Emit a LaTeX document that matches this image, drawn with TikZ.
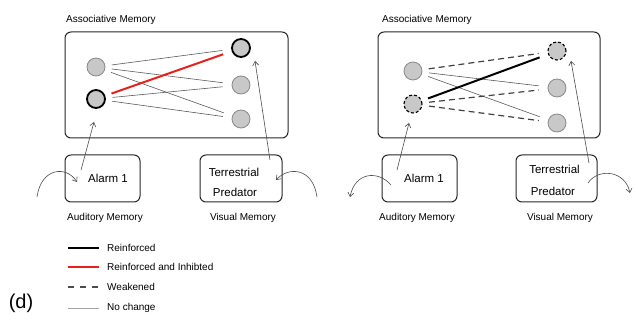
\documentclass[tikz,border=0pt]{standalone}
\usepackage{fontspec}
\setmainfont{Liberation Sans}
\usetikzlibrary{arrows.meta}
\definecolor{cellfill}{HTML}{C8C8C8}
\definecolor{cellrim}{HTML}{8A8A8A}
\definecolor{linkgrey}{HTML}{5A5A5A}
\definecolor{inhib}{HTML}{E8201C}
\tikzset{
  cell/.style={circle, fill=cellfill, draw=cellrim, line width=0.8pt, minimum size=18pt, inner sep=0pt},
  strongcell/.style={cell, draw=black, line width=1.8pt},
  weakcell/.style={cell, draw=black, line width=1.1pt, dash pattern=on 3pt off 2pt},
  memframe/.style={draw=black!85, line width=1pt, rounded corners=6pt},
  membox/.style={draw=black!85, line width=1pt, rounded corners=6pt, minimum width=75pt, minimum height=47pt, inner sep=0pt},
  link/.style={draw=linkgrey, line width=0.6pt, shorten <=6.5pt, shorten >=9pt},
  linkweak/.style={draw=black!75, line width=1.2pt, dash pattern=on 6pt off 4pt, shorten <=6.5pt, shorten >=9pt},
  linkstrong/.style={draw=black, line width=2pt, shorten <=6.5pt, shorten >=9pt},
  linkred/.style={draw=inhib, line width=2pt, shorten <=6.5pt, shorten >=9pt},
  feed/.style={draw=black!70, line width=0.6pt, -{Straight Barb[length=4pt,width=6pt]}},
  small/.style={font=\fontsize{10}{12}\selectfont, inner sep=0pt},
  boxtext/.style={font=\fontsize{11.5}{13}\selectfont, inner sep=0pt},
}
\begin{document}
\begin{tikzpicture}[x=1pt, y=-1pt]
\useasboundingbox (0,0) rectangle (635,326);

% ---------- left panel ----------
\node[small, anchor=west] (tA) at (66,20) {Associative Memory};
\draw[memframe] (65,32) rectangle (288,138);
\node[cell]       (aL1) at (96,67)  {};
\node[strongcell] (aL2) at (96,99)  {};
\node[strongcell] (aR1) at (241,48) {};
\node[cell]       (aR2) at (241,85) {};
\node[cell]       (aR3) at (241,119){};
\draw[link] (aL1) -- (aR1);
\draw[link] (aL1) -- (aR2);
\draw[link] (aL1) -- (aR3);
\draw[link] (aL2) -- (aR2);
\draw[link] (aL2) -- (aR3);
\draw[linkred] (aL2) -- (aR1);

\node[membox] (aA) at (102.5,178.5) {};
\node[boxtext] (aAt) at (108,178) {Alarm 1};
\node[membox, minimum width=82pt] (aV) at (241,178.5) {};
\node[boxtext] (aVt1) at (234,172) {Terrestrial};
\node[boxtext] (aVt2) at (235,192) {Predator};
\node[small] (aAl) at (105,218) {Auditory Memory};
\node[small] (aVl) at (243,218) {Visual Memory};

\coordinate (aAtail) at (81,170);
\coordinate (aAhead) at (94,122);
\coordinate (aVtail) at (270,160);
\coordinate (aVhead) at (255,61);
\draw[feed] (aAtail) -- (aAhead);
\draw[feed] (aVtail) -- (aVhead);
\coordinate (aCa) at (37,197);
\coordinate (aCb) at (77,182);
\coordinate (aCc) at (317,197);
\coordinate (aCd) at (276,180);
\draw[feed] (aCa) .. controls (41,168) and (66,165) .. (aCb);
\draw[feed] (aCc) .. controls (313,168) and (289,166) .. (aCd);

% ---------- right panel ----------
\node[small, anchor=west] (tB) at (382,20) {Associative Memory};
\draw[memframe] (378,32) rectangle (600,138);
\node[cell]     (bL1) at (413,71)  {};
\node[weakcell] (bL2) at (413,104) {};
\node[weakcell] (bR1) at (557,51)  {};
\node[cell]     (bR2) at (557,88)  {};
\node[cell]     (bR3) at (557,123) {};
\draw[linkweak] (bL1) -- (bR1);
\draw[link] (bL1) -- (bR2);
\draw[link] (bL1) -- (bR3);
\draw[linkweak] (bL2) -- (bR2);
\draw[linkweak] (bL2) -- (bR3);
\draw[linkstrong] (bL2) -- (bR1);

\node[membox] (bA) at (419.5,178.5) {};
\node[boxtext] (bAt) at (424,178) {Alarm 1};
\node[membox, minimum width=81pt] (bV) at (556.5,178.5) {};
\node[boxtext] (bVt1) at (554.5,169) {Terrestrial};
\node[boxtext] (bVt2) at (553,191) {Predator};
\node[small] (bAl) at (417,218) {Auditory Memory};
\node[small] (bVl) at (560,218) {Visual Memory};

\coordinate (bAtail) at (397,170);
\coordinate (bAhead) at (409,123);
\coordinate (bVtail) at (589,163);
\coordinate (bVhead) at (571,61);
\draw[feed] (bAtail) -- (bAhead);
\draw[feed] (bVtail) -- (bVhead);
\coordinate (bCa) at (391,185);
\coordinate (bCb) at (350,197);
\coordinate (bCc) at (588,183);
\coordinate (bCd) at (630,193);
\draw[feed] (bCa) .. controls (378,170) and (355,172) .. (bCb);
\draw[feed] (bCc) .. controls (598,168) and (625,170) .. (bCd);

% ---------- legend ----------
\coordinate (k1a) at (68,248); \coordinate (k1b) at (99,248);
\coordinate (k2a) at (68,267); \coordinate (k2b) at (99,267);
\coordinate (k3a) at (68,287); \coordinate (k3b) at (99,287);
\coordinate (k4a) at (68,308); \coordinate (k4b) at (99,308);
\draw[black, line width=2pt] (k1a) -- (k1b);
\draw[inhib, line width=2pt] (k2a) -- (k2b);
\draw[black!70, line width=1.2pt, dash pattern=on 6pt off 6pt] (k3a) -- (k3b);
\draw[black!35, line width=0.8pt] (k4a) -- (k4b);
\node[small, anchor=west] (k1) at (107,248) {Reinforced};
\node[small, anchor=west] (k2) at (107,267) {Reinforced and Inhibted};
\node[small, anchor=west] (k3) at (107,287) {Weakened};
\node[small, anchor=west] (k4) at (107,308) {No change};
\node[font=\fontsize{20}{22}\selectfont, inner sep=0pt] (tag) at (21,303) {(d)};
\end{tikzpicture}
\end{document}
